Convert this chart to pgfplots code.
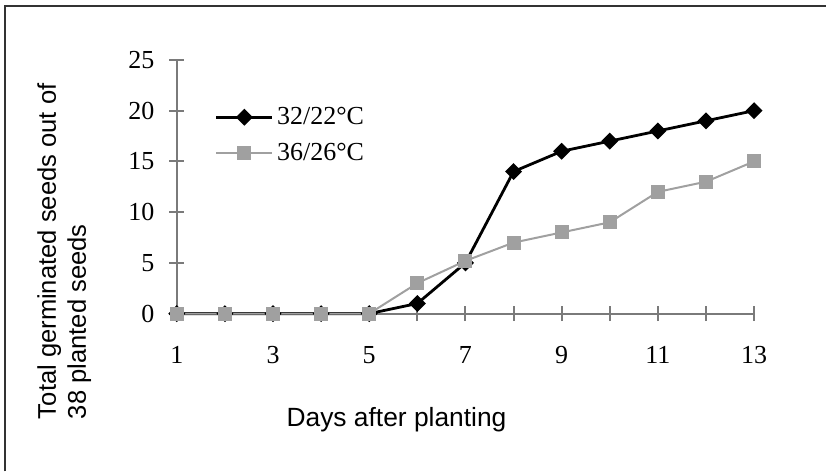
\documentclass[border=0pt]{standalone}
\usepackage{pgfplots}
\pgfplotsset{compat=1.18}
\usepackage{fontspec}
\setmainfont{Liberation Serif}
\newfontfamily\arial{Liberation Sans}
\definecolor{sergray}{HTML}{A0A0A0}
\definecolor{axgray}{HTML}{7A7A7A}
\begin{document}
\begin{tikzpicture}
% frame of the picture (top and left edges visible in reference)
\path (0pt,0pt) rectangle (413.5pt,236pt);
\draw[line width=1pt, color=black!80] (2.5pt,0pt) -- (2.5pt,233.2pt) -- (413.5pt,233.2pt);
\begin{axis}[
  at={(88.5pt,79pt)}, anchor=south west,
  scale only axis, width=289pt, height=127pt,
  xmin=1, xmax=13, ymin=0, ymax=25,
  axis lines=left,
  axis line style={-, color=axgray, line width=1pt},
  xtick={1,2,...,13},
  xticklabels={1,,3,,5,,7,,9,,11,,13},
  ytick={0,5,10,15,20,25},
  tick align=center,
  major tick length=7.5pt,
  tick style={color=axgray, line width=1pt},
  /pgf/number format/assume math mode=true,
  tick label style={font=\fontsize{13}{15}\selectfont},
  xticklabel style={yshift=-9pt},
  yticklabel style={xshift=-4pt},
  clip=false,
  xlabel={Days after planting},
  xlabel style={font=\arial\fontsize{13.2}{15}\selectfont, at={(rel axis cs:0.3806,-0.445)}, anchor=base, inner sep=0pt},
  ylabel={Total germinated seeds out of\\38 planted seeds},
  ylabel style={font=\arial\fontsize{12.8}{15}\selectfont, align=left, at={(rel axis cs:-0.2422,-0.417)}, anchor=north west, inner sep=0pt},
  legend style={draw=none, fill=none, at={(rel axis cs:0.0655,0.703)}, anchor=west, inner sep=0pt, row sep=4pt,
    font=\fontsize{13}{15}\selectfont, legend cell align=left,
    /tikz/every odd column/.append style={column sep=-0.3pt}},
  legend image code/.code={\draw[mark repeat=2,mark phase=2] plot coordinates {(0pt,0pt) (14pt,0pt) (28pt,0pt)};},
]
\addplot[black, line width=1.4pt, mark=square*, mark size=2.3pt, mark options={rotate=45, solid, fill=black}]
  coordinates {(1,0) (2,0) (3,0) (4,0) (5,0) (6,1) (7,5) (8,14) (9,16) (10,17) (11,18) (12,19) (13,20)};
\addlegendentry{32/22°C}
\addplot[sergray, line width=1pt, mark=square*, mark size=3pt, mark options={solid, fill=sergray}]
  coordinates {(1,0) (2,0) (3,0) (4,0) (5,0) (6,3) (7,5.2) (8,7) (9,8) (10,9) (11,12) (12,13) (13,15)};
\addlegendentry{36/26°C}
\end{axis}
\end{tikzpicture}
\end{document}
